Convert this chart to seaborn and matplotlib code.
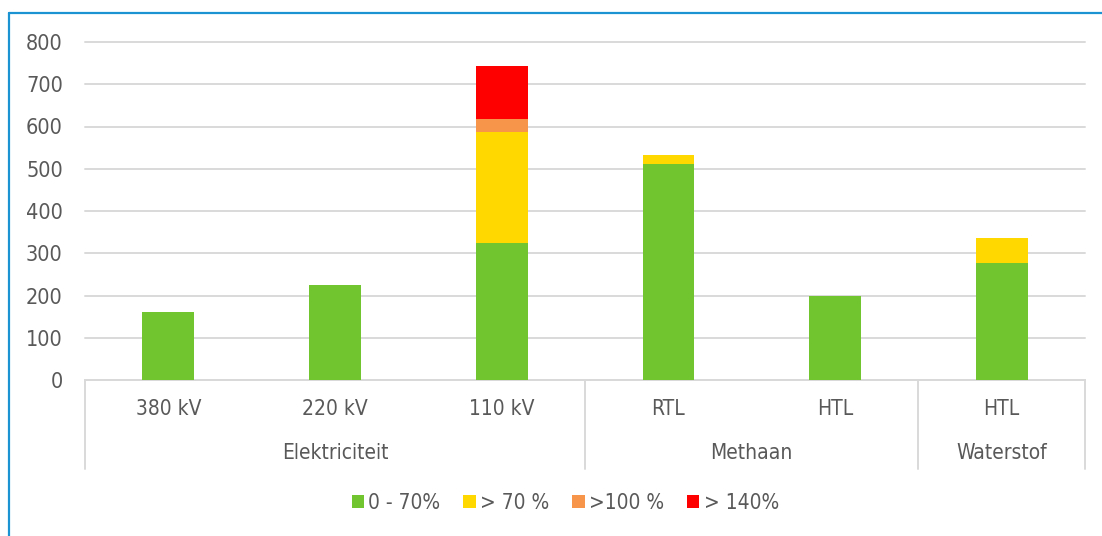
import matplotlib
matplotlib.use("Agg")
import matplotlib.pyplot as plt
import matplotlib.transforms as mtransforms
from matplotlib.lines import Line2D
from matplotlib.patches import Patch
import numpy as np
import pandas as pd
import seaborn as sns

# Categories (two-level axis)
groups = ["Elektriciteit", "Methaan", "Waterstof"]
group_sizes = [3, 2, 1]
sub_labels = ["380 kV", "220 kV", "110 kV", "RTL", "HTL", "HTL"]

# Series: length per loading class
series_names = ["0 - 70%", "> 70 %", ">100 %", "> 140%"]
s_0_70 = [161, 225, 324, 512, 199, 278]
s_70 = [0, 0, 264, 20, 0, 57]
s_100 = [0, 0, 30, 0, 0, 0]
s_140 = [0, 0, 125, 0, 0, 0]

colors = ["#71C52F", "#FFD800", "#F7964A", "#FF0000"]
text_color = "#595959"
grid_color = "#D9D9D9"

sns.set_theme(style="white")
plt.rcParams["font.family"] = ["DejaVu Sans"]
plt.rcParams["font.stretch"] = "condensed"

keys = [f"{i}" for i in range(len(sub_labels))]
stack = np.array([s_0_70, s_70, s_100, s_140], dtype=float)
cum = np.cumsum(stack, axis=0)

fig = plt.figure(figsize=(11.02, 5.36), dpi=100)
ax = fig.add_axes([85 / 1102, 1 - 380 / 536, 1000 / 1102, 338 / 536])

# Stacked bars: draw cumulative totals from the top layer downward
for level in range(len(series_names) - 1, -1, -1):
    df = pd.DataFrame({"key": keys, "value": cum[level]})
    sns.barplot(data=df, x="key", y="value", order=keys, color=colors[level],
                width=0.31, saturation=1, linewidth=0, ax=ax, zorder=3)

ax.set_xlim(-0.5, len(keys) - 0.5)
ax.set_ylim(0, 800)
ax.set_yticks(range(0, 801, 100))
ax.yaxis.grid(True, color=grid_color, linewidth=1.4, zorder=0)
for gl in ax.get_ygridlines():
    gl.set_clip_on(False)
ax.set_axisbelow(True)
ax.tick_params(axis="y", length=0, pad=16, labelsize=15.5, labelcolor=text_color)
ax.set_xticks([])
ax.set_xlabel("")
ax.set_ylabel("")
for side in ["left", "right", "top"]:
    ax.spines[side].set_visible(False)
ax.spines["bottom"].set_color(grid_color)
ax.spines["bottom"].set_linewidth(1.4)

trans = mtransforms.blended_transform_factory(ax.transData, ax.transAxes)
for i, lab in enumerate(sub_labels):
    ax.text(i, -0.086, lab, transform=trans, ha="center", va="center",
            fontsize=15, color=text_color)

start = 0
bounds = [-0.5]
for g, n in zip(groups, group_sizes):
    center = start + (n - 1) / 2
    ax.text(center, -0.216, g, transform=trans, ha="center", va="center",
            fontsize=15, color=text_color)
    start += n
    bounds.append(start - 0.5)
for b in bounds:
    ax.plot([b, b], [0, -0.262], transform=trans, color=grid_color,
            linewidth=1.4, clip_on=False)

handles = [Patch(facecolor=c, edgecolor="none") for c in colors]
leg = fig.legend(handles, series_names, loc="center", bbox_to_anchor=(0.513, 1 - 503 / 536),
                 ncol=4, frameon=False, fontsize=15, handlelength=0.6, handleheight=0.6,
                 handletextpad=0.2, columnspacing=1.1)
for t in leg.get_texts():
    t.set_color(text_color)

# Frame lines on left and top of the chart area
fig.add_artist(Line2D([9 / 1102, 9 / 1102], [0, 1 - 13 / 536], transform=fig.transFigure,
                      color="#1B93D2", linewidth=1.6))
fig.add_artist(Line2D([9 / 1102, 1], [1 - 13 / 536, 1 - 13 / 536], transform=fig.transFigure,
                      color="#1B93D2", linewidth=1.6))

fig.savefig("out.png", dpi=100, facecolor="white")
